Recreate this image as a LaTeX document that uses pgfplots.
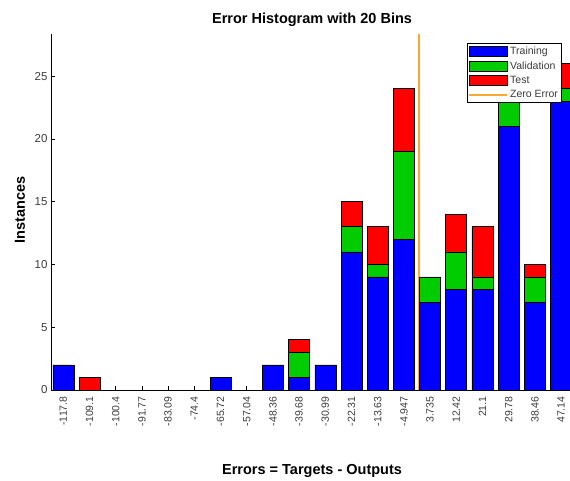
\documentclass[border=0pt]{standalone}
\usepackage{pgfplots}
\pgfplotsset{compat=1.18}
\usepackage{fontspec}
\setmainfont{Liberation Sans}
\definecolor{tbl}{RGB}{0,0,255}
\definecolor{vgr}{RGB}{0,204,0}
\definecolor{tre}{RGB}{255,0,0}
\definecolor{zor}{RGB}{250,170,50}
\definecolor{tickgray}{RGB}{60,60,60}
\begin{document}
\begin{tikzpicture}
\useasboundingbox (-51pt,-90pt) rectangle (519pt,390pt);
\begin{axis}[
  scale only axis, width=519pt, height=356pt,
  xmin=-0.47, xmax=19.34, ymin=0, ymax=28.35,
  ybar stacked, bar width=21pt,
  axis x line*=bottom, axis y line*=left,
  axis line style={-, line width=0.6pt},
  xtick={0,...,19},
  xticklabels={-117.8,-109.1,-100.4,-91.77,-83.09,-74.4,-65.72,-57.04,-48.36,-39.68,-30.99,-22.31,-13.63,-4.947,3.735,12.42,21.1,29.78,38.46,47.14},
  xticklabel style={rotate=90, anchor=east, font=\fontsize{10.5}{11}\selectfont, text=tickgray},
  xticklabel shift=3pt,
  ytick={0,5,...,25},
  yticklabel style={font=\fontsize{11.5}{12}\selectfont, text=tickgray},
  /pgf/number format/assume math mode=true,
  tick align=inside, major tick length=4pt, tick style={black, line width=0.5pt},
  title={Error Histogram with 20 Bins},
  title style={font=\bfseries\fontsize{14.5}{16}\selectfont, at={(axis description cs:0.503,1)}, anchor=base, yshift=4pt},
  xlabel={Errors = Targets - Outputs},
  xlabel style={font=\bfseries\fontsize{14.5}{16}\selectfont, at={(axis description cs:0.503,0)}, anchor=base, yshift=-84pt},
  ylabel={Instances},
  ylabel style={font=\bfseries\fontsize{14.5}{16}\selectfont, at={(axis description cs:-0.0597,0.506)}, anchor=center},
  legend style={at={(rel axis cs:0.984,0.974)}, anchor=north east, font=\fontsize{10.5}{11}\selectfont, text=tickgray, draw=black, inner sep=1.5pt, row sep=1.5pt, cells={anchor=west}},
  legend cell align=left,
]
\addplot[fill=tbl, draw=black, line width=0.6pt, legend image code/.code={\draw[fill=tbl,draw=black,line width=0.6pt] (0pt,-5pt) rectangle (38pt,5pt);}]
  coordinates {(0,2) (1,0) (2,0) (3,0) (4,0) (5,0) (6,1) (7,0) (8,2) (9,1) (10,2) (11,11) (12,9) (13,12) (14,7) (15,8) (16,8) (17,21) (18,7) (19,23)};
\addlegendentry{Training}
\addplot[fill=vgr, draw=black, line width=0.6pt, legend image code/.code={\draw[fill=vgr,draw=black,line width=0.6pt] (0pt,-5pt) rectangle (38pt,5pt);}]
  coordinates {(0,0) (1,0) (2,0) (3,0) (4,0) (5,0) (6,0) (7,0) (8,0) (9,2) (10,0) (11,2) (12,1) (13,7) (14,2) (15,3) (16,1) (17,2) (18,2) (19,1)};
\addlegendentry{Validation}
\addplot[fill=tre, draw=black, line width=0.6pt, legend image code/.code={\draw[fill=tre,draw=black,line width=0.6pt] (0pt,-5pt) rectangle (38pt,5pt);}]
  coordinates {(0,0) (1,1) (2,0) (3,0) (4,0) (5,0) (6,0) (7,0) (8,0) (9,1) (10,0) (11,2) (12,3) (13,5) (14,0) (15,3) (16,4) (17,2) (18,1) (19,2)};
\addlegendentry{Test}
\addplot[stack plots=false, sharp plot, zor, line width=1.8pt, legend image code/.code={\draw[zor,line width=1.8pt] (0pt,0pt) -- (38pt,0pt);}]
  coordinates {(13.57,0) (13.57,28.35)};
\addlegendentry{Zero Error}
\end{axis}
\end{tikzpicture}
\end{document}
